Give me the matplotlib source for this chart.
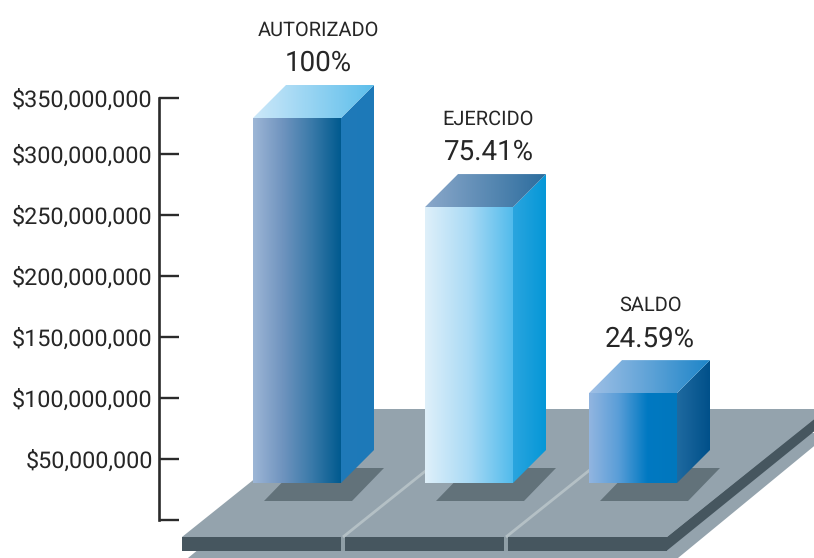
#!/usr/bin/env python
import numpy as np
import matplotlib
matplotlib.use('Agg')
import matplotlib.pyplot as plt
from matplotlib.colors import LinearSegmentedColormap
from matplotlib.patches import Polygon

categories = ['AUTORIZADO', 'EJERCIDO', 'SALDO']
percents = ['100%', '75.41%', '24.59%']
bar_tops = [329.5e6, 256.5e6, 104e6]
bar_base = 30.3e6

tick_values = [0, 50e6, 100e6, 150e6, 200e6, 250e6, 300e6, 346e6]
tick_labels = ['', '$50,000,000', '$100,000,000', '$150,000,000', '$200,000,000',
               '$250,000,000', '$300,000,000', '$350,000,000']

# left/right colours of every face
front_colors = [['#9db6d6', '#7094bf', '#3a7aa9', '#005a8f'],
                ['#dff0fa', '#a9daf5', '#52bbec'],
                ['#92b5e0', '#5a9ed8', '#0079c2', '#0077bd']]
side_colors = [['#1f7ab9', '#1d79b8'],
               ['#2aa5df', '#0597d7'],
               ['#1f6aa0', '#00508a']]
top_colors = [['#cde8f9', '#5cbeeb'],
              ['#8ba8ca', '#2c6d9e'],
              ['#a0c0e6', '#1d85c8']]

FLOOR = '#94a3ad'
DARK = '#46565f'
SHADOW = '#62727a'
LINE = '#b4c0c5'
TEXT = '#262626'

bar_left = [253, 425, 589]
label_x = [318.5, 488.5, 650]
bar_width = 88
depth = 33
shadow_shift = 11

plt.rcParams['font.family'] = ['Roboto', 'DejaVu Sans']
plt.rcParams['text.hinting'] = 'none'

fig = plt.figure(figsize=(8.14, 5.58), dpi=100)
ax = fig.add_axes([0, 0, 1, 1])

# 61 pixels are 50 million, zero sits on pixel row 520
per_px = 50e6 / 61


def py(row):
    return (520 - row) * per_px


ax.set_xlim(0, 814)
ax.set_ylim(py(558), py(0))


def gradient(points, colors, zorder):
    cmap = LinearSegmentedColormap.from_list('face', colors)
    xs = [p[0] for p in points]
    ys = [p[1] for p in points]
    im = ax.imshow(np.linspace(0, 1, 256).reshape(1, -1), cmap=cmap, aspect='auto',
                   extent=(min(xs), max(xs), min(ys), max(ys)), zorder=zorder)
    clip = Polygon(points, closed=True, transform=ax.transData)
    im.set_clip_path(clip)


def shape(rows, color, zorder):
    pts = [(x, py(r)) for x, r in rows]
    ax.add_patch(Polygon(pts, closed=True, fc=color, ec='none', zorder=zorder))


# lower plate, floor and its dark edge
shape([(188, 558), (678, 558), (830, 433), (340, 433)], FLOOR, 1)
shape([(182, 537), (667, 537), (667, 550.5), (182, 550.5)], DARK, 2)
shape([(667, 537), (827, 408), (827, 421), (667, 550.5)], DARK, 2)
shape([(182, 537), (342, 409), (827, 409), (667, 537)], FLOOR, 3)

# dividers of the floor
for x0 in [343, 506]:
    shape([(x0 - 2, 537), (x0 + 2, 537), (x0 + 2, 550.5), (x0 - 2, 550.5)], '#8f9ea6', 4)
    ax.plot([x0, x0 + 100], [py(537), py(457)], color=LINE, lw=2,
            solid_capstyle='butt', zorder=4)

# bars
for i, top in enumerate(bar_tops):
    x0 = bar_left[i]
    x1 = x0 + bar_width
    dy = depth * per_px

    shape([(x0 + shadow_shift, 501), (x1 + shadow_shift, 501),
           (x1 + shadow_shift + 32, 468), (x0 + shadow_shift + 32, 468)], SHADOW, 5)

    gradient([(x0, bar_base), (x1, bar_base), (x1, top), (x0, top)], front_colors[i], 6)
    gradient([(x1, bar_base), (x1 + depth, bar_base + dy), (x1 + depth, top + dy), (x1, top)],
             side_colors[i], 6)
    gradient([(x0, top), (x1, top), (x1 + depth, top + dy), (x0 + depth, top + dy)],
             top_colors[i], 6)

    ax.annotate(percents[i], (label_x[i], top + dy), xytext=(0, 15.5), textcoords='offset points',
                ha='center', va='center', fontsize=20, color=TEXT)
    ax.annotate(categories[i], (label_x[i], top + dy), xytext=(0, 39.5), textcoords='offset points',
                ha='center', va='center', fontsize=14.4, color=TEXT)

# the axis
for name in ['top', 'right', 'bottom']:
    ax.spines[name].set_visible(False)
ax.spines['left'].set_position(('data', 159))
ax.spines['left'].set_bounds(0, tick_values[-1])
ax.spines['left'].set_linewidth(1.9)
ax.spines['left'].set_color('#2b2b2b')
ax.patch.set_alpha(0)
ax.set_xticks([])
ax.set_yticks(tick_values)
ax.set_yticklabels(tick_labels)
ax.tick_params(axis='y', direction='in', length=14.5, width=1.7, color='#2b2b2b',
               labelcolor=TEXT, labelsize=16.8, pad=4.5)

ax.set_xlim(0, 814)
ax.set_ylim(py(558), py(0))

fig.savefig('out.png', dpi=100)
